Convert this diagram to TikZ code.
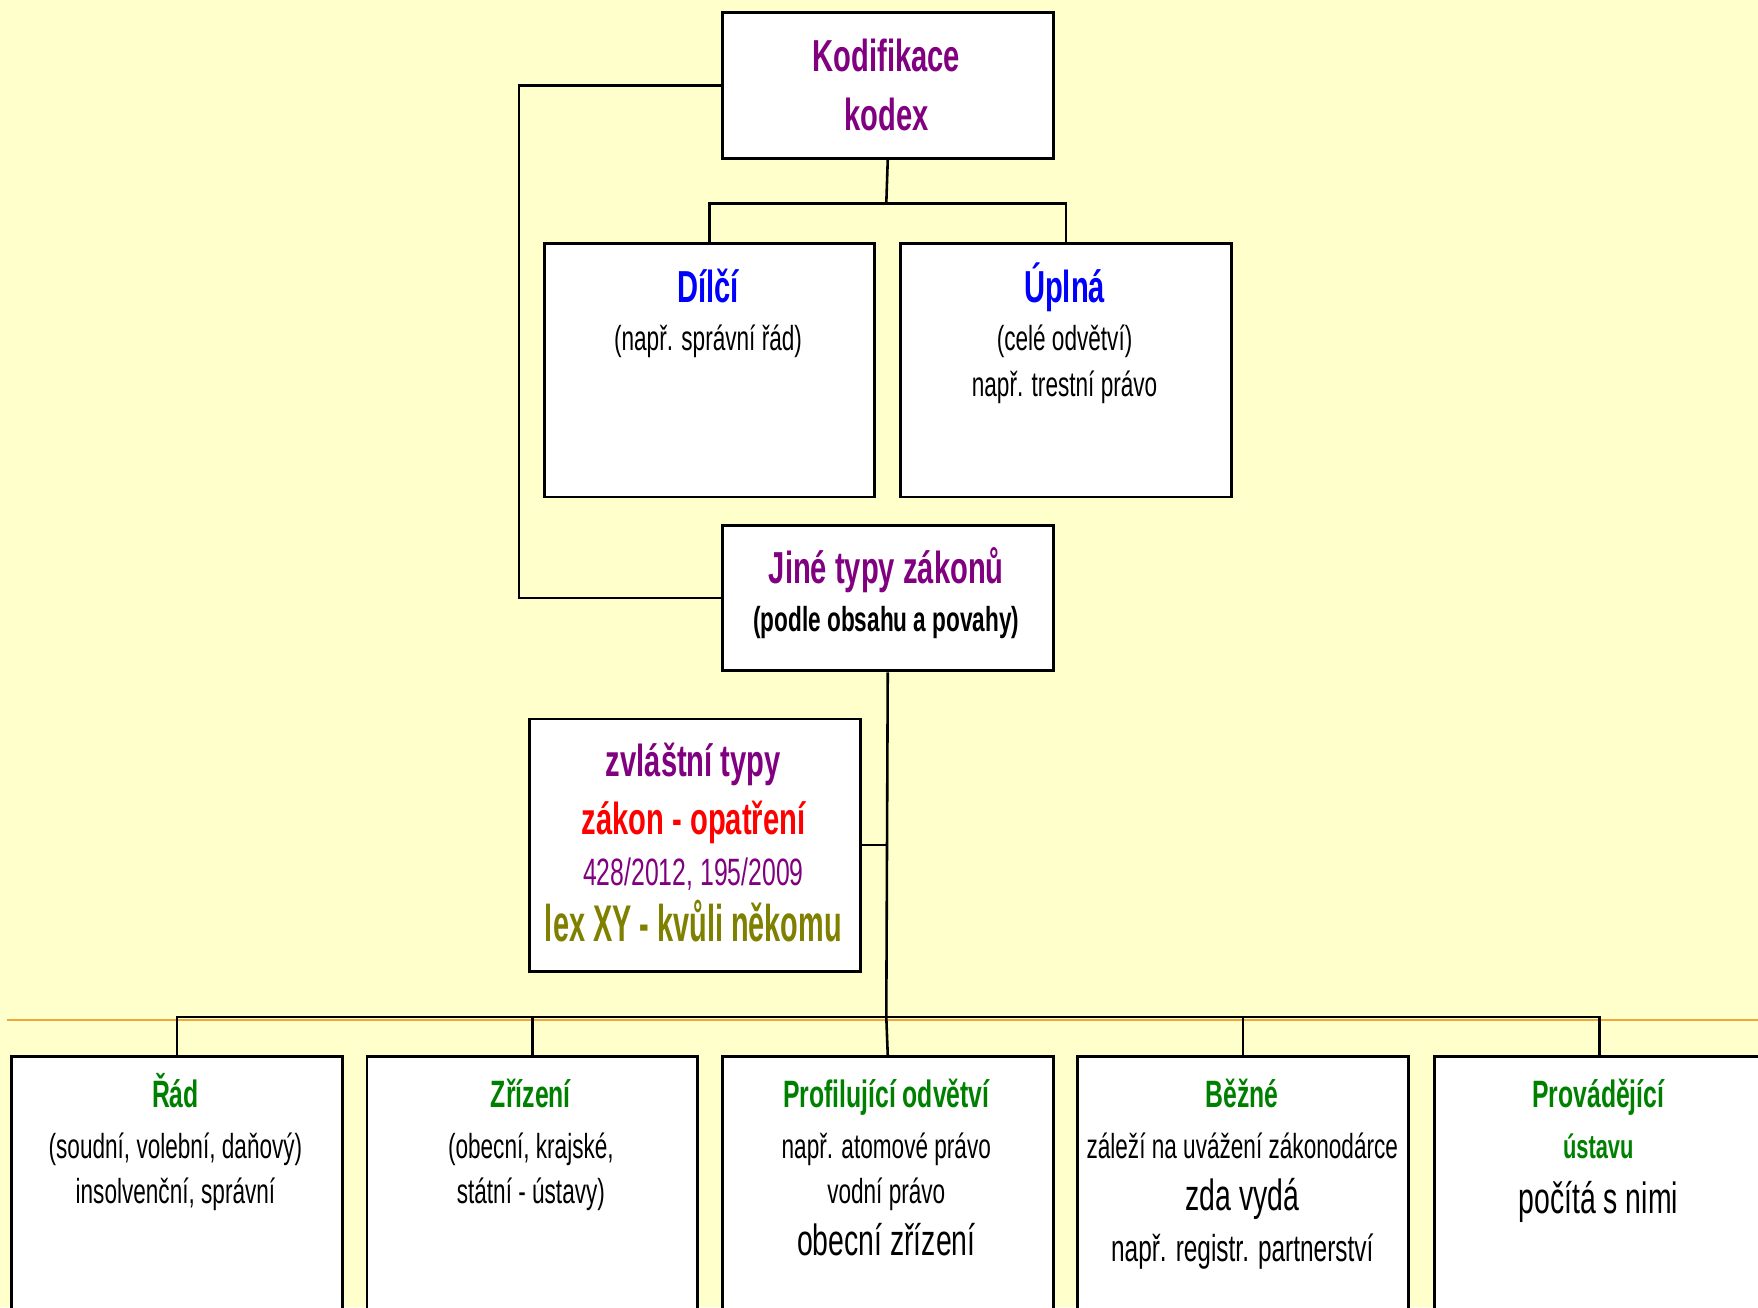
\documentclass[tikz,border=0pt]{standalone}
\usepackage{fontspec}
\setmainfont[FakeStretch=0.65]{Liberation Sans}
\newfontfamily\lexfont[FakeStretch=0.56]{Liberation Sans}
\definecolor{bgyellow}{RGB}{255,255,204}
\definecolor{lpurple}{RGB}{128,0,128}
\definecolor{lblue}{RGB}{0,0,255}
\definecolor{lred}{RGB}{255,0,0}
\definecolor{lolive}{RGB}{128,128,0}
\definecolor{lgreen}{RGB}{0,128,0}
\definecolor{lorange}{RGB}{240,168,60}
\tikzset{
  box/.style={draw=black, line width=2.6pt, fill=white, rectangle, inner sep=0pt, anchor=north west, minimum width=295pt},
  conn/.style={line width=2.3pt, draw=black},
  t/.style={anchor=base, inner sep=0pt},
  big/.style={t, font=\fontsize{40}{48}\selectfont\bfseries},
  sub/.style={t, font=\fontsize{31}{37}\selectfont},
  subb/.style={t, font=\fontsize{31}{37}\selectfont\bfseries},
  gtitle/.style={t, font=\fontsize{34}{40}\selectfont\bfseries, text=lgreen},
  large/.style={t, font=\fontsize{39}{46}\selectfont},
}
\begin{document}
\begin{tikzpicture}[x=1pt, y=-1pt]
\useasboundingbox (0,0) rectangle (1568,1166);
\clip (0,0) rectangle (1568,1166);
\fill[bgyellow] (0,0) rectangle (1568,1166);
% orange rule
\draw[lorange, line width=1.6pt] (6,910) -- (1568,910);

% boxes
\node[box, minimum height=130pt] (kod) at (643,10) {};
\node[box, minimum height=226pt] (dil) at (484,216) {};
\node[box, minimum height=226pt] (upl) at (802,216) {};
\node[box, minimum height=130pt] (jine) at (643,467) {};
\node[box, minimum height=225pt] (zvl) at (471,640) {};
\node[box, minimum height=260pt] (rad) at (9,941) {};
\node[box, minimum height=260pt] (zri) at (326,941) {};
\node[box, minimum height=260pt] (prof) at (643,941) {};
\node[box, minimum height=260pt] (bez) at (960,941) {};
\node[box, minimum height=260pt] (prov) at (1278,941) {};

% texts
\node[big, text=lpurple] (k1) at (790.5,64) {Kodifikace};
\node[big, text=lpurple] (k2) at (790.5,116) {kodex};

\node[big, text=lblue] (d1) at (631.5,270) {Dílčí};
\node[sub] (d2) at (631.5,313) {(např. správní řád)};

\node[big, text=lblue] (u1) at (949.5,270) {Úplná};
\node[sub] (u2) at (949.5,313) {(celé odvětví)};
\node[sub] (u3) at (949.5,354) {např. trestní právo};

\node[big, text=lpurple] (j1) at (790.5,520) {Jiné typy zákonů};
\node[subb] (j2) at (790.5,563) {(podle obsahu a povahy)};

\node[big, text=lpurple] (z1) at (618.5,693) {zvláštní typy};
\node[big, text=lred] (z2) at (618.5,744) {zákon - opatření};
\node[t, font=\fontsize{34}{40}\selectfont, text=lpurple] (z3) at (618.5,790) {428/2012, 195/2009};
\node[t, font=\fontsize{46}{52}\lexfont\bfseries, text=lolive] (z4) at (618.5,840) {lex XY - kvůli někomu};

\node[gtitle] (r1) at (156.5,988) {Řád};
\node[sub] (r2) at (156.5,1033) {(soudní, volební, daňový)};
\node[sub] (r3) at (156.5,1073) {insolvenční, správní};

\node[gtitle] (s1) at (473.5,988) {Zřízení};
\node[sub] (s2) at (473.5,1033) {(obecní, krajské,};
\node[sub] (s3) at (473.5,1073) {státní - ústavy)};

\node[gtitle] (p1) at (790.5,988) {Profilující odvětví};
\node[sub] (p2) at (790.5,1033) {např. atomové právo};
\node[sub] (p3) at (790.5,1073) {vodní právo};
\node[large] (p4) at (790.5,1120) {obecní zřízení};

\node[gtitle] (b1) at (1108,988) {Běžné};
\node[sub] (b2) at (1108,1033) {záleží na uvážení zákonodárce};
\node[large] (b3) at (1108,1080) {zda vydá};
\node[t, font=\fontsize{33.5}{40}\selectfont] (b4) at (1108,1125) {např. registr. partnerství};

\node[gtitle] (v1) at (1425.5,988) {Provádějící};
\node[t, font=\fontsize{30}{36}\selectfont\bfseries, text=lgreen] (v2) at (1425.5,1033) {ústavu};
\node[large] (v3) at (1425.5,1082) {počítá s nimi};

% connectors
\coordinate (lk) at (463,0);
\coordinate (bar1) at (790.5,181.5);
\coordinate (bar2) at (790.5,907);
\draw[conn] (kod.west) -- (kod.west -| lk) -- (jine.west -| lk) -- (jine.west);
\draw[conn] (kod.south) -- (bar1);
\draw[conn] (dil.north) |- (bar1) -| (upl.north);
\draw[conn] (jine.south) -- (bar2);
\draw[conn] (zvl.east) -- (zvl.east -| bar2);
\draw[conn] (rad.north) |- (bar2) -| (prov.north);
\draw[conn] (zri.north) -- (zri.north |- bar2);
\draw[conn] (bez.north) -- (bez.north |- bar2);
\draw[conn] (prof.north) -- (bar2);
\end{tikzpicture}
\end{document}
